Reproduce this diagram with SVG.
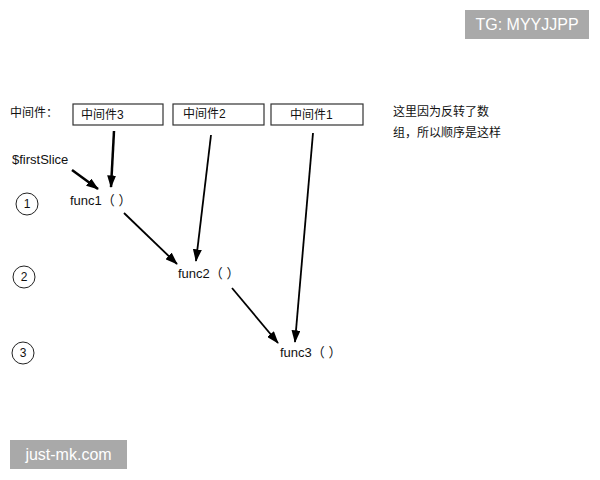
<svg xmlns="http://www.w3.org/2000/svg" width="600" height="480" viewBox="0 0 600 480">
<defs>
<style>
text{font-family:"Liberation Sans","Noto Sans CJK SC",sans-serif;fill:#111;font-size:12px}
.f{font-size:13px}
.box{fill:#fff;stroke:#333;stroke-width:1.2}
.circ{fill:none;stroke:#222;stroke-width:1}
.ln{stroke:#000;fill:none}
.wm{fill:#a9a9a9}
.wmt{fill:#fff;font-size:16px}
</style>
<marker id="ah" viewBox="0 0 14 10" refX="13" refY="5" markerWidth="5" markerHeight="3.6" orient="auto" markerUnits="strokeWidth">
<path d="M0,0 L14,5 L0,10 z" fill="#000"/>
</marker>
<marker id="ah2" viewBox="0 0 14 10" refX="13" refY="5" markerWidth="7" markerHeight="5" orient="auto" markerUnits="strokeWidth">
<path d="M0,0 L14,5 L0,10 z" fill="#000"/>
</marker>
</defs>
<rect width="600" height="480" fill="#fff"/>
<g id="label-mw"><text x="10" y="117">中间件：</text></g>
<g id="mw3"><rect class="box" x="73" y="104" width="90" height="21"/><text x="81" y="119">中间件3</text></g>
<g id="mw2"><rect class="box" x="173" y="104" width="91" height="21"/><text x="183" y="118">中间件2</text></g>
<g id="mw1"><rect class="box" x="271" y="104" width="92" height="21"/><text x="290" y="119">中间件1</text></g>
<g id="note"><text x="393" y="116">这里因为反转了数</text><text x="393" y="137">组，所以顺序是这样</text></g>
<g id="firstSlice"><text class="f" x="12" y="164">$firstSlice</text></g>
<g id="step1"><circle class="circ" cx="27" cy="204" r="11"/><text x="27" y="208" text-anchor="middle">1</text></g>
<g id="step2"><circle class="circ" cx="24" cy="277" r="11"/><text x="24" y="281" text-anchor="middle">2</text></g>
<g id="step3"><circle class="circ" cx="23" cy="353" r="11"/><text x="23" y="357" text-anchor="middle">3</text></g>
<g id="func1"><text class="f" x="70" y="205">func1（ ）</text></g>
<g id="func2"><text class="f" x="178" y="278">func2（ ）</text></g>
<g id="func3"><text class="f" x="280" y="357">func3（ ）</text></g>
<g id="connectors">
<line class="ln" x1="114" y1="131" x2="111" y2="187" stroke-width="2.5" marker-end="url(#ah)"/>
<line class="ln" x1="72" y1="170" x2="98" y2="189" stroke-width="2.5" marker-end="url(#ah)"/>
<line class="ln" x1="124" y1="213" x2="177" y2="264" stroke-width="1.8" marker-end="url(#ah2)"/>
<line class="ln" x1="211" y1="135" x2="196" y2="261" stroke-width="1.8" marker-end="url(#ah2)"/>
<line class="ln" x1="232" y1="288" x2="278" y2="343" stroke-width="1.8" marker-end="url(#ah2)"/>
<line class="ln" x1="313" y1="133" x2="295" y2="342" stroke-width="1.8" marker-end="url(#ah2)"/>
</g>
<g id="wm-tg"><rect class="wm" x="465" y="10" width="124" height="29"/><text class="wmt" x="527" y="30" text-anchor="middle">TG: MYYJJPP</text></g>
<g id="wm-site"><rect class="wm" x="10" y="440" width="117" height="29"/><text class="wmt" x="68.5" y="460" text-anchor="middle">just-mk.com</text></g>
</svg>
